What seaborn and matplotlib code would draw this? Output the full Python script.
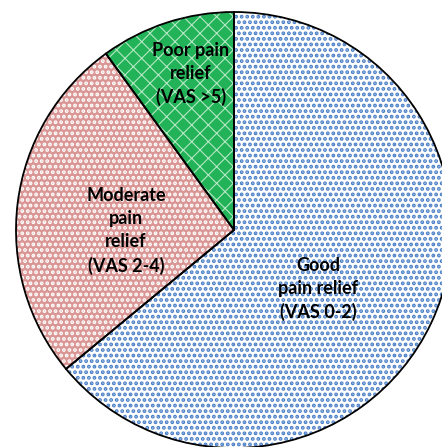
import matplotlib
matplotlib.use("Agg")
import matplotlib.pyplot as plt
import seaborn as sns

categories = ["Good\npain relief\n(VAS 0-2)", "Moderate\npain\nrelief\n(VAS 2-4)", "Poor pain\nrelief\n(VAS >5)"]
values = [64, 26, 10]

sns.set_theme(style="white")
plt.rcParams["font.family"] = ["Lato", "DejaVu Sans"]
plt.rcParams["hatch.linewidth"] = 1.9

face_colors = ["#ffffff", "#d99694", "#22b257"]
hatch_colors = ["#4a7fc6", "#ffffff", "#b5e8c5"]
hatches = ["...", "...", "xx"]
hatch_lw = [1.9, 1.9, 0.8]

W, H = 442, 447
fig = plt.figure(figsize=(W / 100, H / 100), dpi=100)
ax = fig.add_axes([0, 0, 1, 1])
ax.set_xlim(0, W)
ax.set_ylim(0, H)
ax.set_aspect("equal")
ax.axis("off")

cx, cy, r = 234, H - 230, 218

wedges, _ = ax.pie(values, startangle=90, counterclock=False, center=(cx, cy),
                   radius=r, frame=True)
for w, fc, hc, ht, lw in zip(wedges, face_colors, hatch_colors, hatches, hatch_lw):
    w.set_facecolor(fc)
    w.set_edgecolor(hc)
    w.set_hatch(ht)
    w.set_linewidth(0)
    if hasattr(w, "set_hatch_linewidth"):
        w.set_hatch_linewidth(lw)
    else:
        w._hatch_linewidth = lw

outline, _ = ax.pie(values, startangle=90, counterclock=False, center=(cx, cy),
                    radius=r, frame=True,
                    wedgeprops=dict(fill=False, edgecolor="black", linewidth=1.3))
ax.set_xlim(0, W)
ax.set_ylim(0, H)
ax.axis("off")

label_pos = [(318, H - 289), (126, H - 231), (191, H - 74)]
for text, (x, y) in zip(categories, label_pos):
    ax.text(x, y, text, ha="center", va="center", fontsize=13, fontweight="bold",
            color="black", linespacing=1.42)

fig.savefig("out.png", dpi=100)
